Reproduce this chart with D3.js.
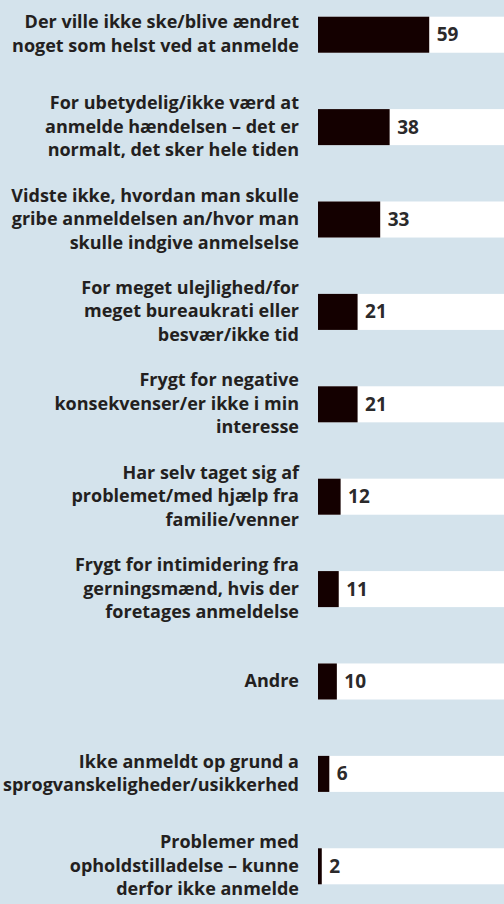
<!DOCTYPE html>
<html>
<head>
<meta charset="utf-8">
<script src="https://cdn.jsdelivr.net/npm/d3@7"></script>
<style>
  html, body { margin: 0; padding: 0; background: #d4e3ec; }
  svg { display: block; }
  .label { font-family: "Open Sans", sans-serif; font-weight: 700; fill: #231f20; }
  .value { font-family: "Open Sans", sans-serif; font-weight: 700; fill: #2b2a2b; }
</style>
</head>
<body>
<div id="chart"></div>
<script>
var width = 504,
    height = 904;

// category labels, one entry per text line
var categories = [
  ["Der ville ikke ske/blive ændret", "noget som helst ved at anmelde"],
  ["For ubetydelig/ikke værd at", "anmelde hændelsen – det er", "normalt, det sker hele tiden"],
  ["Vidste ikke, hvordan man skulle", "gribe anmeldelsen an/hvor man", "skulle indgive anmelselse"],
  ["For meget ulejlighed/for", "meget bureaukrati eller", "besvær/ikke tid"],
  ["Frygt for negative", "konsekvenser/er ikke i min", "interesse"],
  ["Har selv taget sig af", "problemet/med hjælp fra", "familie/venner"],
  ["Frygt for intimidering fra", "gerningsmænd, hvis der", "foretages anmeldelse"],
  ["Andre"],
  ["Ikke anmeldt op grund a", "sprogvanskeligheder/usikkerhed"],
  ["Problemer med", "opholdstilladelse – kunne", "derfor ikke anmelde"]
];
var values = [59, 38, 33, 21, 21, 12, 11, 10, 6, 2];

var data = categories.map(function (c, i) {
  return { key: i, lines: c, value: values[i] };
});

var barLeft = 318,
    lineH = 23.5;

var x = d3.scaleLinear()
    .domain([0, 100])
    .range([barLeft, barLeft + 188.5]);

var y = d3.scaleBand()
    .domain(data.map(function (d) { return d.key; }))
    .range([16.7, 884.3])
    .paddingInner(0.61)
    .paddingOuter(0);

var svg = d3.select("#chart")
    .append("svg")
    .attr("width", width)
    .attr("height", height);

// white tracks behind the bars
svg.selectAll(".track")
    .data(data)
    .enter().append("rect")
    .attr("class", "track")
    .attr("x", x(0))
    .attr("y", function (d) { return y(d.key); })
    .attr("width", width - x(0))
    .attr("height", y.bandwidth())
    .attr("fill", "#ffffff");

svg.selectAll(".bar")
    .data(data)
    .enter().append("rect")
    .attr("class", "bar")
    .attr("x", x(0))
    .attr("y", function (d) { return y(d.key); })
    .attr("width", function (d) { return x(d.value) - x(0); })
    .attr("height", y.bandwidth())
    .attr("fill", "#140000");

svg.selectAll(".value")
    .data(data)
    .enter().append("text")
    .attr("class", "value")
    .attr("x", function (d) { return x(d.value) + 7.5; })
    .attr("y", function (d) { return y(d.key) + y.bandwidth() / 2 + 6.5; })
    .style("font-size", "19px")
    .text(function (d) { return d.value; });

// category labels, right aligned, centred on the bar
var labels = svg.selectAll(".label")
    .data(data)
    .enter().append("text")
    .attr("class", "label")
    .attr("text-anchor", "end")
    .style("font-size", "18px");

labels.selectAll("tspan")
    .data(function (d) {
      var n = d.lines.length;
      var cy = y(d.key) + y.bandwidth() / 2;
      return d.lines.map(function (t, k) {
        return { text: t, y: cy + (k - (n - 1) / 2) * lineH + 5.5 };
      });
    })
    .enter().append("tspan")
    .attr("x", 299)
    .attr("y", function (d) { return d.y; })
    .text(function (d) { return d.text; });
</script>
</body>
</html>
